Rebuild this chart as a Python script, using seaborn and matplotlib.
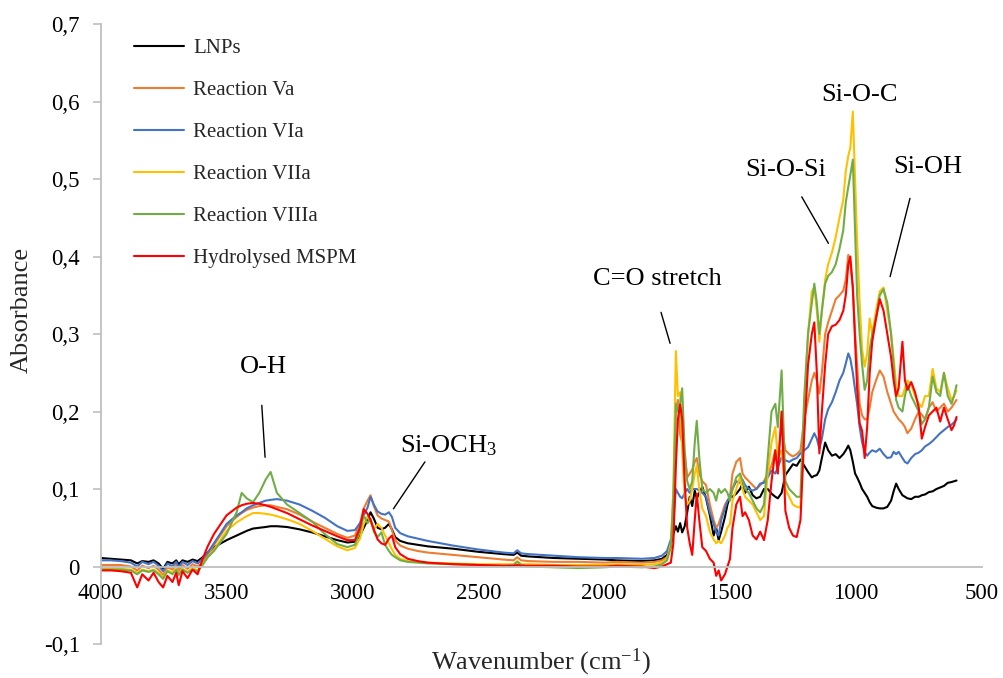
import matplotlib
matplotlib.use("Agg")
import matplotlib.pyplot as plt
import pandas as pd
import seaborn as sns
from matplotlib.ticker import FuncFormatter

# ---------------- data ----------------
wavenumber = [
    4000, 3960, 3920, 3880, 3855, 3835, 3810, 3790, 3770, 3752,
    3735, 3715, 3700, 3690, 3675, 3655, 3635, 3615, 3595, 3575,
    3550, 3500, 3460, 3440, 3420, 3395, 3370, 3345, 3325, 3300,
    3260, 3210, 3160, 3110, 3060, 3020, 2990, 2970, 2955, 2940,
    2928, 2915, 2900, 2885, 2870, 2855, 2843, 2830, 2810, 2780,
    2740, 2700, 2600, 2500, 2400, 2360, 2345, 2330, 2300, 2200,
    2100, 2000,
    1950, 1850, 1800, 1770, 1750, 1735, 1725, 1715, 1707, 1698,
    1690, 1680, 1670, 1660, 1650, 1640, 1632, 1622, 1610, 1595,
    1580, 1565, 1555, 1545, 1535, 1520, 1510, 1500, 1490, 1475,
    1460, 1450, 1440, 1425, 1410, 1395, 1380, 1365, 1350, 1335,
    1320, 1310, 1295, 1280, 1265, 1250, 1235, 1220, 1205, 1190,
    1175, 1165, 1155, 1145, 1135, 1122, 1110, 1095, 1080, 1065,
    1050, 1040, 1030, 1022, 1012, 1003, 995, 985, 975, 965,
    955, 945, 935, 920, 905, 890, 875, 860, 850, 840,
    830, 815, 805, 795, 780, 765, 750, 738, 725, 710,
    695, 680, 665, 650, 635, 620, 610, 600,
]

lnps = [
    0.011, 0.010, 0.009, 0.008, 0.004, 0.007, 0.006, 0.008, 0.004, -0.003,
    0.006, 0.004, 0.008, 0.003, 0.008, 0.006, 0.009, 0.007, 0.012, 0.018,
    0.025, 0.034, 0.040, 0.043, 0.046, 0.049, 0.050, 0.051, 0.052, 0.052,
    0.051, 0.048, 0.044, 0.039, 0.034, 0.031, 0.032, 0.040, 0.050, 0.060,
    0.070, 0.062, 0.050, 0.048, 0.050, 0.055, 0.048, 0.038, 0.033, 0.030,
    0.028, 0.026, 0.023, 0.019, 0.016, 0.015, 0.018, 0.014, 0.013, 0.011,
    0.010, 0.009,
    0.008, 0.007, 0.008, 0.010, 0.015, 0.028, 0.042, 0.052, 0.045, 0.056,
    0.044, 0.052, 0.070, 0.090, 0.078, 0.098, 0.088, 0.095, 0.103, 0.088,
    0.066, 0.040, 0.050, 0.034, 0.045, 0.064, 0.080, 0.090, 0.090, 0.094,
    0.100, 0.107, 0.095, 0.103, 0.092, 0.088, 0.090, 0.100, 0.100, 0.094,
    0.090, 0.088, 0.095, 0.118, 0.125, 0.132, 0.130, 0.138, 0.130, 0.122,
    0.115, 0.117, 0.118, 0.124, 0.140, 0.160, 0.150, 0.143, 0.145, 0.140,
    0.145, 0.150, 0.156, 0.150, 0.135, 0.120, 0.115, 0.108, 0.100, 0.095,
    0.090, 0.083, 0.078, 0.076, 0.075, 0.075, 0.077, 0.085, 0.097, 0.107,
    0.100, 0.092, 0.090, 0.088, 0.087, 0.090, 0.090, 0.092, 0.093, 0.096,
    0.097, 0.100, 0.102, 0.104, 0.108, 0.109, 0.110, 0.111,
]

reaction_va = [
    0.002, 0.002, 0.002, 0.000, -0.005, 0.001, -0.002, 0.001, -0.004, -0.011,
    -0.001, -0.004, 0.002, -0.006, 0.002, -0.003, 0.003, 0.000, 0.006, 0.015,
    0.028, 0.052, 0.064, 0.069, 0.073, 0.076, 0.078, 0.079, 0.079, 0.077,
    0.074, 0.067, 0.058, 0.050, 0.042, 0.037, 0.040, 0.055, 0.075, 0.085,
    0.092, 0.078, 0.066, 0.062, 0.060, 0.058, 0.047, 0.034, 0.027, 0.023,
    0.020, 0.018, 0.015, 0.012, 0.009, 0.008, 0.012, 0.008, 0.007, 0.006,
    0.006, 0.005,
    0.006, 0.005, 0.006, 0.008, 0.012, 0.025, 0.070, 0.200, 0.215, 0.170,
    0.160, 0.145, 0.115, 0.120, 0.125, 0.135, 0.140, 0.120, 0.110, 0.105,
    0.080, 0.060, 0.050, 0.055, 0.065, 0.080, 0.085, 0.090, 0.120, 0.135,
    0.140, 0.120, 0.115, 0.110, 0.105, 0.100, 0.105, 0.110, 0.120, 0.130,
    0.150, 0.140, 0.180, 0.150, 0.145, 0.142, 0.145, 0.150, 0.190, 0.215,
    0.240, 0.250, 0.240, 0.223, 0.250, 0.300, 0.315, 0.330, 0.345, 0.350,
    0.356, 0.370, 0.402, 0.390, 0.360, 0.300, 0.260, 0.210, 0.195, 0.190,
    0.190, 0.205, 0.225, 0.240, 0.253, 0.245, 0.225, 0.210, 0.200, 0.195,
    0.190, 0.185, 0.180, 0.172, 0.178, 0.190, 0.200, 0.196, 0.190, 0.205,
    0.212, 0.200, 0.205, 0.210, 0.200, 0.205, 0.210, 0.215,
]

reaction_via = [
    0.008, 0.008, 0.007, 0.005, 0.000, 0.006, 0.003, 0.006, 0.001, -0.006,
    0.004, 0.000, 0.006, -0.001, 0.006, 0.002, 0.007, 0.004, 0.010, 0.018,
    0.030, 0.055, 0.066, 0.070, 0.075, 0.079, 0.082, 0.085, 0.086, 0.087,
    0.085, 0.080, 0.072, 0.063, 0.052, 0.046, 0.047, 0.056, 0.066, 0.076,
    0.090, 0.080, 0.071, 0.068, 0.067, 0.070, 0.064, 0.050, 0.043, 0.039,
    0.036, 0.033, 0.027, 0.022, 0.018, 0.017, 0.021, 0.017, 0.016, 0.014,
    0.012, 0.011,
    0.011, 0.010, 0.011, 0.014, 0.020, 0.035, 0.060, 0.100, 0.095, 0.090,
    0.088, 0.095, 0.100, 0.095, 0.100, 0.100, 0.100, 0.098, 0.095, 0.090,
    0.070, 0.055, 0.045, 0.040, 0.060, 0.075, 0.085, 0.090, 0.100, 0.110,
    0.108, 0.112, 0.105, 0.100, 0.098, 0.100, 0.107, 0.108, 0.115, 0.124,
    0.120, 0.128, 0.141, 0.137, 0.135, 0.138, 0.140, 0.146, 0.150, 0.154,
    0.165, 0.172, 0.165, 0.152, 0.165, 0.190, 0.203, 0.212, 0.225, 0.240,
    0.250, 0.262, 0.275, 0.268, 0.250, 0.228, 0.210, 0.180, 0.160, 0.148,
    0.143, 0.147, 0.150, 0.148, 0.152, 0.145, 0.140, 0.141, 0.148, 0.145,
    0.148, 0.140, 0.135, 0.133, 0.140, 0.145, 0.147, 0.150, 0.155, 0.158,
    0.162, 0.167, 0.172, 0.176, 0.180, 0.183, 0.186, 0.190,
]

reaction_viia = [
    -0.003, -0.003, -0.003, -0.004, -0.008, -0.004, -0.006, -0.004, -0.008, -0.014,
    -0.005, -0.008, -0.003, -0.009, -0.003, -0.007, -0.002, -0.005, 0.003, 0.012,
    0.022, 0.046, 0.057, 0.061, 0.065, 0.069, 0.069, 0.068, 0.067, 0.065,
    0.061, 0.055, 0.046, 0.036, 0.026, 0.021, 0.024, 0.036, 0.055, 0.064,
    0.058, 0.048, 0.055, 0.050, 0.040, 0.030, 0.022, 0.015, 0.010, 0.007,
    0.006, 0.005, 0.004, 0.003, 0.003, 0.003, 0.007, 0.003, 0.003, 0.002,
    0.002, 0.002,
    0.003, 0.002, 0.003, 0.005, 0.010, 0.030, 0.100, 0.278, 0.220, 0.225,
    0.150, 0.090, 0.080, 0.085, 0.100, 0.120, 0.130, 0.100, 0.075, 0.065,
    0.045, 0.035, 0.030, 0.033, 0.030, 0.040, 0.050, 0.055, 0.085, 0.100,
    0.116, 0.100, 0.090, 0.085, 0.080, 0.070, 0.060, 0.065, 0.120, 0.160,
    0.180, 0.140, 0.150, 0.100, 0.090, 0.080, 0.077, 0.076, 0.200, 0.300,
    0.355, 0.360, 0.330, 0.290, 0.330, 0.370, 0.390, 0.405, 0.425, 0.450,
    0.473, 0.510, 0.530, 0.540, 0.587, 0.500, 0.420, 0.340, 0.280, 0.258,
    0.275, 0.320, 0.300, 0.330, 0.355, 0.360, 0.330, 0.300, 0.270, 0.235,
    0.220, 0.220, 0.230, 0.240, 0.235, 0.220, 0.210, 0.206, 0.220, 0.220,
    0.255, 0.230, 0.225, 0.250, 0.230, 0.215, 0.220, 0.227,
]

reaction_viiia = [
    -0.004, -0.004, -0.004, -0.005, -0.010, -0.005, -0.007, -0.005, -0.010, -0.016,
    -0.006, -0.010, -0.004, -0.011, -0.004, -0.008, -0.004, -0.006, 0.002, 0.012,
    0.020, 0.042, 0.070, 0.095, 0.088, 0.083, 0.095, 0.112, 0.122, 0.095,
    0.080, 0.069, 0.058, 0.042, 0.029, 0.025, 0.028, 0.045, 0.066, 0.056,
    0.062, 0.045, 0.038, 0.044, 0.028, 0.020, 0.015, 0.012, 0.008, 0.006,
    0.005, 0.004, 0.003, 0.002, 0.001, 0.002, 0.006, 0.002, 0.000, -0.001,
    -0.002, -0.001,
    0.000, -0.001, 0.000, 0.003, 0.008, 0.025, 0.090, 0.210, 0.200, 0.210,
    0.230, 0.150, 0.110, 0.100, 0.110, 0.160, 0.188, 0.140, 0.100, 0.095,
    0.100, 0.095, 0.085, 0.100, 0.095, 0.100, 0.095, 0.085, 0.100, 0.115,
    0.120, 0.110, 0.100, 0.095, 0.085, 0.075, 0.070, 0.080, 0.140, 0.200,
    0.210, 0.180, 0.253, 0.110, 0.100, 0.095, 0.090, 0.090, 0.220, 0.300,
    0.340, 0.365, 0.340, 0.300, 0.330, 0.365, 0.375, 0.380, 0.390, 0.410,
    0.434, 0.470, 0.490, 0.505, 0.525, 0.430, 0.350, 0.300, 0.260, 0.228,
    0.240, 0.280, 0.300, 0.320, 0.350, 0.358, 0.340, 0.300, 0.260, 0.215,
    0.205, 0.200, 0.220, 0.235, 0.220, 0.210, 0.200, 0.184, 0.190, 0.205,
    0.245, 0.225, 0.220, 0.250, 0.220, 0.210, 0.220, 0.234,
]

hydrolysed_mspm = [
    -0.005, -0.005, -0.006, -0.008, -0.027, -0.010, -0.018, -0.008, -0.020, -0.027,
    -0.012, -0.020, -0.008, -0.024, -0.006, -0.015, -0.004, -0.010, 0.010, 0.026,
    0.042, 0.066, 0.076, 0.079, 0.081, 0.082, 0.081, 0.079, 0.077, 0.074,
    0.069, 0.061, 0.053, 0.046, 0.039, 0.034, 0.034, 0.050, 0.074, 0.068,
    0.060, 0.048, 0.035, 0.030, 0.028, 0.036, 0.040, 0.025, 0.016, 0.010,
    0.007, 0.005, 0.003, 0.002, 0.001, 0.001, 0.002, 0.001, 0.001, 0.001,
    0.000, 0.000,
    0.001, 0.000, -0.002, 0.000, 0.003, 0.005, 0.030, 0.130, 0.190, 0.209,
    0.190, 0.110, 0.050, 0.030, 0.015, 0.060, 0.094, 0.060, 0.025, 0.020,
    0.010, 0.005, -0.012, -0.005, -0.018, -0.010, 0.000, 0.010, 0.050, 0.080,
    0.090, 0.065, 0.070, 0.060, 0.040, 0.035, 0.045, 0.034, 0.060, 0.110,
    0.150, 0.120, 0.200, 0.072, 0.050, 0.040, 0.038, 0.060, 0.170, 0.260,
    0.300, 0.315, 0.250, 0.146, 0.200, 0.260, 0.300, 0.310, 0.312, 0.318,
    0.330, 0.350, 0.390, 0.400, 0.360, 0.290, 0.230, 0.185, 0.175, 0.140,
    0.180, 0.250, 0.290, 0.320, 0.345, 0.330, 0.300, 0.270, 0.240, 0.220,
    0.230, 0.290, 0.240, 0.228, 0.238, 0.225, 0.205, 0.165, 0.180, 0.195,
    0.200, 0.205, 0.187, 0.205, 0.190, 0.176, 0.182, 0.193,
]

series_names = ["LNPs", "Reaction Va", "Reaction VIa", "Reaction VIIa",
                "Reaction VIIIa", "Hydrolysed MSPM"]
series_values = [lnps, reaction_va, reaction_via, reaction_viia,
                 reaction_viiia, hydrolysed_mspm]
series_colors = ["#000000", "#ED7D31", "#4472C4", "#FFC000", "#70AD47", "#FF0000"]

x_ticks = [4000, 3500, 3000, 2500, 2000, 1500, 1000, 500]
y_ticks = [-0.1, 0.0, 0.1, 0.2, 0.3, 0.4, 0.5, 0.6, 0.7]

# ---------------- build table ----------------
frames = []
for name, vals in zip(series_names, series_values):
    if len(vals) != len(wavenumber):
        raise ValueError(f"{name}: {len(vals)} values vs {len(wavenumber)}")
    frames.append(pd.DataFrame({"Wavenumber": wavenumber,
                                "Absorbance": vals,
                                "Sample": name}))
df = pd.concat(frames, ignore_index=True)

# ---------------- style ----------------
sns.set_theme(style="white")
plt.rcParams["font.family"] = ["Liberation Serif", "DejaVu Serif"]
plt.rcParams["mathtext.fontset"] = "custom"
plt.rcParams["mathtext.rm"] = "Liberation Serif"
plt.rcParams["mathtext.it"] = "Liberation Serif:italic"
plt.rcParams["axes.unicode_minus"] = False

fig = plt.figure(figsize=(10.04, 6.78), dpi=100)
ax = fig.add_axes([0.1003, 0.0501, 0.8775, 0.9145])

sns.lineplot(data=df, x="Wavenumber", y="Absorbance", hue="Sample",
             hue_order=series_names, palette=series_colors,
             estimator=None, sort=False, linewidth=1.5, ax=ax)

ax.set_xlim(4000, 500)
ax.set_ylim(-0.1, 0.7)

for s in ["top", "right"]:
    ax.spines[s].set_visible(False)
ax.spines["bottom"].set_position(("data", 0))
for s in ["left", "bottom"]:
    ax.spines[s].set_color("#BFBFBF")
    ax.spines[s].set_linewidth(1.3)

ax.set_xticks(x_ticks)
ax.set_xticklabels([str(t) for t in x_ticks])
ax.set_yticks(y_ticks)
ax.yaxis.set_major_formatter(
    FuncFormatter(lambda v, p: "0" if abs(v) < 1e-9 else f"{v:.1f}".replace(".", ",")))
ax.tick_params(axis="x", length=0, pad=12, labelsize=16.5, labelcolor="black")
ax.tick_params(axis="y", left=True, length=6, width=1.2, color="#BFBFBF",
               direction="out", pad=9, labelsize=16.5, labelcolor="black")
ax.set_xlabel("")
ax.set_ylabel("")

fig.text(0.539, 1 - 662 / 678, r"Wavenumber (cm$^{-1}$)", ha="center", va="center",
         fontsize=19)
fig.text(22 / 1004, 1 - 310 / 678, "Absorbance", ha="center", va="center",
         rotation=90, fontsize=19)

# legend
handles, labels = ax.get_legend_handles_labels()
leg = ax.legend(handles, labels, loc="upper left", bbox_to_anchor=(0.0373, 0.977),
                frameon=False, fontsize=15, handlelength=2.4, handletextpad=0.45,
                labelspacing=1.08, borderaxespad=0, borderpad=0)
for h in leg.get_lines():
    h.set_linewidth(1.5)

# peak annotations
ann = dict(ha="center", va="center", fontsize=19, color="black")
ax.text(987, 0.6085, "Si-O-C", **ann)
ax.text(1277, 0.512, "Si-O-Si", **ann)
ax.text(713, 0.516, "Si-OH", **ann)
ax.text(1790, 0.371, "C=O stretch", **ann)
ax.text(3355, 0.258, "O-H", **ann)
ax.text(2616, 0.156, r"Si-OCH$_3$", **ann)

line = dict(arrowstyle="-", color="black", lw=1.0, shrinkA=0, shrinkB=0)
ax.annotate("", xy=(3347, 0.141), xytext=(3360, 0.208), arrowprops=line)
ax.annotate("", xy=(2837, 0.0745), xytext=(2712, 0.135), arrowprops=line)
ax.annotate("", xy=(1738, 0.288), xytext=(1774, 0.328), arrowprops=line)
ax.annotate("", xy=(1109, 0.417), xytext=(1215, 0.477), arrowprops=line)
ax.annotate("", xy=(864, 0.374), xytext=(785, 0.475), arrowprops=line)

fig.savefig("out.png", dpi=100)
